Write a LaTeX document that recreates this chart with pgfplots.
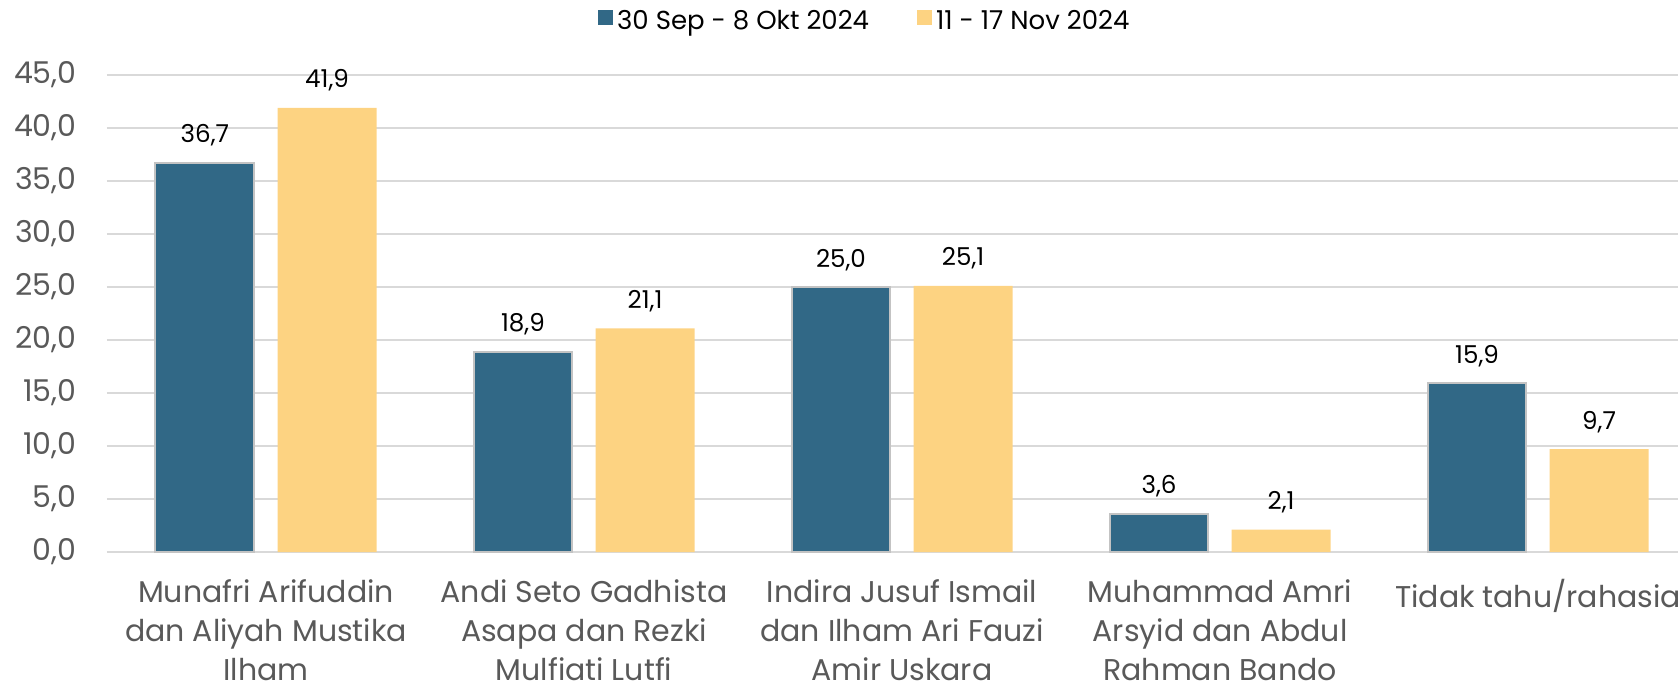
\documentclass[border=0pt]{standalone}
\usepackage{pgfplots}
\pgfplotsset{compat=1.18}
\usepackage{fontspec}
\setmainfont{Poppins}
\definecolor{cblue}{RGB}{49,104,134}
\definecolor{cyel}{RGB}{253,211,130}
\definecolor{cgrid}{RGB}{217,217,217}
\definecolor{ctick}{RGB}{89,89,89}
\definecolor{cshadow}{RGB}{195,195,195}
\begin{document}
\begin{tikzpicture}
\begin{axis}[
  at={(0,0)}, anchor=south west, scale only axis,
  width=785.5pt, height=238.5pt,
  xmin=-0.5, xmax=4.44, ymin=0, ymax=45,
  ybar,
  ytick={0,5,...,45},
  xtick={0,1,2,3,4},
  xticklabels={{Munafri Arifuddin\\dan Aliyah Mustika\\Ilham},
               {Andi Seto Gadhista\\Asapa dan Rezki\\Mulfiati Lutfi},
               {Indira Jusuf Ismail\\dan Ilham Ari Fauzi\\Amir Uskara},
               {Muhammad Amri\\Arsyid dan Abdul\\Rahman Bando},
               {Tidak tahu/rahasia}},
  axis line style={draw=none},
  major tick length=0pt,
  ymajorgrids, grid style={cgrid, line width=1pt},
  /pgf/number format/.cd, fixed, fixed zerofill, precision=1, use comma, assume math mode=true,
  /pgfplots/.cd,
  yticklabel style={font=\fontsize{15}{18}\selectfont, text=ctick, anchor=east, inner sep=0pt, xshift=-15pt},
  xticklabel style={font=\fontsize{15}{19.5}\selectfont, align=center, text=ctick, anchor=north, inner sep=0pt, yshift=-13.5pt},
  nodes near coords,
  every node near coord/.append style={font=\fontsize{12.3}{14}\selectfont, text=black, anchor=base, inner sep=0pt, yshift=10pt},
  clip=false,
  legend columns=2,
  legend style={draw=none, at={(0.483,1.113)}, anchor=center, font=\fontsize{13}{15}\selectfont,
    /tikz/every even column/.append style={column sep=22pt}},
  legend image code/.code={\fill[#1,draw=none] (0pt,-0.22em) rectangle (7.5pt,7.5pt-0.22em);},
]
\addplot[fill=cblue, draw=cshadow, line width=1pt, bar width=0.311, bar shift=-0.192]
  coordinates {(0,36.7) (1,18.9) (2,25.0) (3,3.6) (4,15.9)};
\addlegendentry{30 Sep - 8 Okt 2024}
\addplot[fill=cyel, draw=none, bar width=0.311, bar shift=0.192]
  coordinates {(0,41.9) (1,21.1) (2,25.1) (3,2.1) (4,9.7)};
\addlegendentry{11 - 17 Nov 2024}
\end{axis}
\pgfresetboundingbox
\path[use as bounding box] (-53.5pt,-67pt) rectangle (785.5pt,276pt);
\end{tikzpicture}
\end{document}
